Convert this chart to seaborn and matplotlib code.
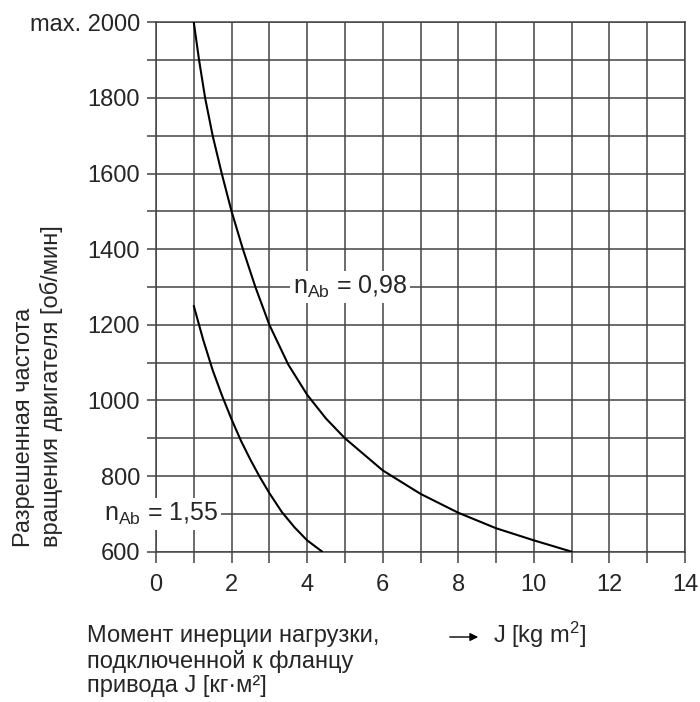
import numpy as np
import pandas as pd
import matplotlib
matplotlib.use("Agg")
import matplotlib.pyplot as plt
from matplotlib.ticker import MultipleLocator, FixedLocator
import seaborn as sns

sns.set_style("white")
plt.rcParams['font.family'] = ['Liberation Sans', 'DejaVu Sans']
plt.rcParams['mathtext.fontset'] = 'custom'
plt.rcParams['mathtext.rm'] = 'Liberation Sans'
plt.rcParams['mathtext.it'] = 'Liberation Sans:italic'

# curve n_Ab = 0,98
j_098 = [1.0, 1.14, 1.30, 1.50, 1.74, 2.0, 2.3, 2.63, 3.0, 3.5, 4.0, 4.5, 5.0, 6.0, 7.0, 8.0, 9.0, 10.0, 11.0]
n_098 = [2000, 1900, 1800, 1700, 1600, 1500, 1400, 1300, 1200, 1095, 1015, 952, 900, 815, 753, 703, 662, 630, 600]

# curve n_Ab = 1,55
j_155 = [1.0, 1.25, 1.5, 1.75, 2.0, 2.25, 2.5, 2.75, 3.0, 3.33, 3.67, 4.0, 4.4]
n_155 = [1250, 1160, 1080, 1012, 950, 893, 843, 797, 755, 705, 664, 630, 600]

x_ticks = [0, 2, 4, 6, 8, 10, 12, 14]
y_ticks = [600, 800, 1000, 1200, 1400, 1600, 1800, 2000]
y_ticklabels = ["600", "800", "1000", "1200", "1400", "1600", "1800", "max. 2000"]

GRID = "#444444"
FS = 17

df = pd.concat([
    pd.DataFrame({"J": j_098, "n": n_098, "curve": "0,98"}),
    pd.DataFrame({"J": j_155, "n": n_155, "curve": "1,55"}),
], ignore_index=True)

fig = plt.figure(figsize=(7, 7.02), dpi=100)
ax = fig.add_axes([156 / 700, 1 - 551.7 / 702, 529 / 700, 529.4 / 702])

sns.lineplot(data=df, x="J", y="n", units="curve", estimator=None, sort=False,
             color="black", linewidth=1.5, ax=ax, zorder=4)

ax.set_xlim(0, 14)
ax.set_ylim(600, 2000)
ax.xaxis.set_major_locator(FixedLocator(x_ticks))
ax.xaxis.set_minor_locator(MultipleLocator(1))
ax.yaxis.set_major_locator(FixedLocator(y_ticks))
ax.yaxis.set_minor_locator(MultipleLocator(100))
ax.set_yticklabels(y_ticklabels)
ax.set_xlabel("")
ax.set_ylabel("")

ax.grid(True, which="both", color=GRID, linewidth=1.1)
ax.tick_params(axis="x", which="both", direction="out", length=8, width=1.1,
               color=GRID, labelsize=FS, pad=8, bottom=True)
ax.tick_params(axis="y", which="both", direction="out", length=6.5, width=1.1,
               color=GRID, labelsize=FS, pad=5, left=True)
for s in ax.spines.values():
    s.set_color(GRID)
    s.set_linewidth(1.1)

box = dict(facecolor="white", edgecolor="none", pad=2)
ax.text(3.62, 1300, r"n$_{\rm Ab}$ = 0,98", fontsize=FS + 1, ha="left", va="center",
        bbox=box, zorder=6)
ax.text(-1.37, 700, r"n$_{\rm Ab}$ = 1,55", fontsize=FS + 1, ha="left", va="center",
        bbox=box, zorder=6, clip_on=False)

fig.text(38 / 700, 1 - 547 / 702,
         "Разрешенная частота\nвращения двигателя [об/мин]",
         rotation=90, ha="center", va="bottom", multialignment="left",
         fontsize=FS, linespacing=1.25)

fig.text(87 / 700, 1 - 661 / 702,
         "Момент инерции нагрузки,\nподключенной к фланцу\nпривода J [кг·м²]",
         ha="left", va="center", fontsize=FS, linespacing=1.15)

fig.text(493 / 700, 1 - 635 / 702, r"J [kg m$^2$]", ha="left", va="center", fontsize=FS)
fig.patches.append(matplotlib.patches.FancyArrowPatch(
    (447 / 700, 1 - 637 / 702), (481 / 700, 1 - 637 / 702),
    transform=fig.transFigure, arrowstyle="-|>", mutation_scale=12,
    color="black", linewidth=1.0))

fig.savefig("out.png", dpi=100)
